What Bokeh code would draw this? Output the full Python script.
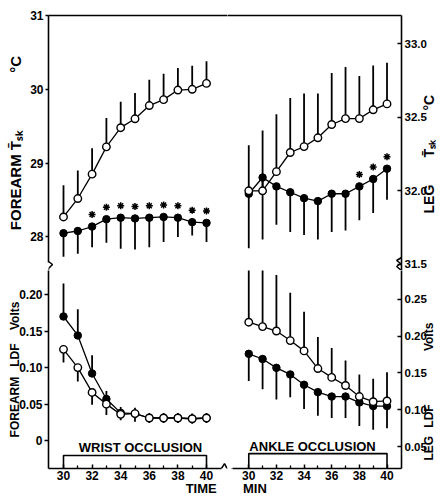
import math
from bokeh.plotting import figure
from bokeh.layouts import gridplot
from bokeh.models import (LinearAxis, FixedTicker, Label, Range1d, NumeralTickFormatter)
from bokeh.embed import file_html
from bokeh.resources import INLINE

# ---------------- data ----------------
minutes = [30, 31, 32, 33, 34, 35, 36, 37, 38, 39, 40]

# forearm mean skin temperature (deg C)
fa_tsk_open = [28.27, 28.52, 28.85, 29.22, 29.48, 29.60, 29.78, 29.86, 29.99, 30.00, 30.08]
fa_tsk_open_sd = [0.43, 0.38, 0.35, 0.39, 0.35, 0.35, 0.35, 0.35, 0.30, 0.32, 0.30]
fa_tsk_closed = [28.05, 28.08, 28.14, 28.24, 28.26, 28.25, 28.26, 28.27, 28.26, 28.20, 28.19]
fa_tsk_closed_sd = [0.32, 0.31, 0.28, 0.32, 0.42, 0.42, 0.40, 0.34, 0.26, 0.18, 0.26]
fa_tsk_signif = [32, 33, 34, 35, 36, 37, 38, 39, 40]

# leg mean skin temperature (deg C)
leg_tsk_open = [32.00, 32.00, 32.13, 32.26, 32.30, 32.36, 32.45, 32.49, 32.49, 32.55, 32.59]
leg_tsk_open_sd = [0.31, 0.41, 0.39, 0.37, 0.36, 0.30, 0.35, 0.35, 0.29, 0.30, 0.28]
leg_tsk_closed = [31.98, 32.09, 32.03, 31.99, 31.95, 31.93, 31.98, 31.98, 32.03, 32.08, 32.15]
leg_tsk_closed_sd = [0.37, 0.42, 0.26, 0.27, 0.25, 0.26, 0.26, 0.25, 0.23, 0.23, 0.21]
leg_tsk_signif = [38, 39, 40]

# forearm laser-Doppler flux (Volts)
fa_ldf_open = [0.125, 0.100, 0.066, 0.050, 0.036, 0.037, 0.031, 0.031, 0.031, 0.030, 0.031]
fa_ldf_open_sd = [0.018, 0.019, 0.017, 0.015, 0.008, 0.011, 0.007, 0.007, 0.007, 0.007, 0.007]
fa_ldf_closed = [0.170, 0.144, 0.092, 0.057, 0.038, 0.037, 0.031, 0.031, 0.031, 0.030, 0.031]
fa_ldf_closed_sd = [0.045, 0.036, 0.025, 0.011, 0.008, 0.008, 0.007, 0.007, 0.007, 0.007, 0.007]

# leg laser-Doppler flux (Volts)
leg_ldf_open = [0.219, 0.213, 0.207, 0.194, 0.180, 0.156, 0.144, 0.133, 0.118, 0.111, 0.112]
leg_ldf_open_sd = [0.078, 0.078, 0.076, 0.065, 0.053, 0.043, 0.040, 0.034, 0.030, 0.031, 0.039]
leg_ldf_closed = [0.176, 0.169, 0.157, 0.148, 0.134, 0.124, 0.118, 0.118, 0.110, 0.105, 0.105]
leg_ldf_closed_sd = [0.037, 0.041, 0.043, 0.031, 0.033, 0.032, 0.029, 0.029, 0.032, 0.032, 0.030]

x_ticks = [30, 32, 34, 36, 38, 40]
x_minor_ticks = [31, 33, 35, 37, 39]
fa_tsk_ticks = [28, 29, 30, 31]
leg_tsk_ticks = [31.5, 32.0, 32.5, 33.0]
fa_ldf_ticks = [0, 0.05, 0.10, 0.15, 0.20]
leg_ldf_ticks = [0.05, 0.10, 0.15, 0.20, 0.25]
occlusion_start, occlusion_end = 30, 40

NB = "\u00a0"
TSK = "T\u0304\u209b\u2096"
fa_tsk_title = "FOREARM " + TSK + NB * 14 + "\u00b0C"
fa_ldf_title = "FOREARM" + NB * 3 + "LDF" + NB * 4 + "Volts"
leg_tsk_words = ["LEG", TSK, "\u00b0C"]
leg_ldf_words = ["LEG", "LDF", "Volts"]
time_title = NB * 35 + "TIME"
min_title = "MIN" + NB * 33

# ---------------- layout helpers (page pixels) ----------------
FONT = "Liberation Sans"
PX_PER_MIN = 14.3


class Panel:
    def __init__(self, fx0, fx1, fy0, fy1, x0, x1, y0, y1, m30_px, yref, yref_px, ppu):
        self.m30 = m30_px
        self.yref = yref
        self.yref_px = yref_px
        self.ppu = ppu
        p = figure(width=fx1 - fx0, height=fy1 - fy0,
                   x_range=Range1d(self.xd(x0), self.xd(x1)),
                   y_range=Range1d(self.yd(y1), self.yd(y0)),
                   min_border_left=x0 - fx0, min_border_right=fx1 - x1,
                   min_border_top=y0 - fy0, min_border_bottom=fy1 - y1,
                   x_axis_location=None, y_axis_location=None,
                   toolbar_location=None, output_backend="svg")
        p.outline_line_color = None
        p.background_fill_color = "white"
        p.border_fill_color = "white"
        p.xgrid.visible = False
        p.ygrid.visible = False
        self.p = p

    def xd(self, px):
        return 30 + (px - self.m30) / PX_PER_MIN

    def yd(self, py):
        return self.yref + (self.yref_px - py) / self.ppu

    def label(self, text, px, py, size):
        self.p.add_layout(Label(x=self.xd(px), y=self.yd(py), text=text,
                                text_align="center", text_baseline="middle",
                                text_font=FONT, text_font_style="bold",
                                text_font_size=f"{size}px", text_color="black"))

    def zigzag(self, pts):
        self.p.line([self.xd(a) for a, b in pts], [self.yd(b) for a, b in pts],
                    line_color="black", line_width=1.5)


def style_axis(ax, size, tick_in=0, tick_out=4, standoff=2):
    ax.axis_line_color = "black"
    ax.axis_line_width = 1.6
    ax.major_tick_line_color = "black"
    ax.major_tick_line_width = 1.5
    ax.minor_tick_line_color = "black"
    ax.minor_tick_line_width = 1.3
    ax.major_tick_in = tick_in
    ax.major_tick_out = tick_out
    ax.minor_tick_in = 0
    ax.minor_tick_out = 0
    ax.major_label_standoff = standoff
    ax.major_label_text_font = FONT
    ax.major_label_text_font_style = "bold"
    ax.major_label_text_font_size = f"{size}px"
    ax.major_label_text_color = "black"
    ax.axis_label_text_font = FONT
    ax.axis_label_text_font_style = "bold"
    ax.axis_label_text_color = "black"


def top_line(panel):
    ax = LinearAxis(ticker=FixedTicker(ticks=[]))
    style_axis(ax, 10, tick_out=0, standoff=0)
    panel.p.add_layout(ax, "above")


def x_axis(panel, bounds, title):
    ax = LinearAxis(ticker=FixedTicker(ticks=x_ticks, minor_ticks=x_minor_ticks),
                    bounds=bounds)
    style_axis(ax, 12, tick_in=4, tick_out=0, standoff=2)
    ax.minor_tick_in = 3
    ax.axis_label = title
    ax.axis_label_text_font_size = "13px"
    ax.axis_label_standoff = -2
    panel.p.add_layout(ax, "below")


def right_title(panel, words, starts_py, size):
    """Rotated title words on the right, read bottom-to-top (one word per label slot)."""
    pos = [round(panel.yd(py), 5) for py in starts_py]
    ax = LinearAxis(ticker=FixedTicker(ticks=pos))
    ax.major_label_overrides = {v: w for v, w in zip(pos, words)}
    ax.axis_line_color = None
    ax.major_tick_line_color = None
    ax.minor_tick_line_color = None
    ax.major_tick_in = 0
    ax.major_tick_out = 0
    ax.minor_tick_in = 0
    ax.minor_tick_out = 0
    ax.major_label_standoff = 0
    ax.major_label_orientation = math.pi / 2
    ax.major_label_text_font = FONT
    ax.major_label_text_font_style = "bold"
    ax.major_label_text_font_size = f"{size}px"
    ax.major_label_text_color = "black"
    panel.p.add_layout(ax, "right")


def draw_pair(panel, open_m, open_sd, open_dir, closed_m, closed_sd, closed_dir):
    p = panel.p
    for m, sd, d in ((open_m, open_sd, open_dir), (closed_m, closed_sd, closed_dir)):
        ends = [v + d * s for v, s in zip(m, sd)]
        p.segment(x0=minutes, y0=m, x1=minutes, y1=ends, line_color="black", line_width=1.8)
    p.line(minutes, open_m, line_color="black", line_width=1.3)
    p.line(minutes, closed_m, line_color="black", line_width=1.3)
    p.scatter(minutes, closed_m, size=7.5, marker="circle", fill_color="black",
              line_color="black", line_width=1)
    p.scatter(minutes, open_m, size=7.5, marker="circle", fill_color="white",
              line_color="black", line_width=1.4)


def draw_signif(panel, sig, means):
    ys = [means[minutes.index(m)] + 12 / panel.ppu for m in sig]
    panel.p.scatter(sig, ys, marker="asterisk", size=7, line_color="black", line_width=1.5)


def occlusion_box(panel, top_py, text, text_px, text_py):
    y0 = panel.p.y_range.start
    yt = panel.yd(top_py)
    panel.p.line([occlusion_start, occlusion_start, occlusion_end, occlusion_end],
                 [y0, yt, yt, y0], line_color="black", line_width=1.6)
    panel.label(text, text_px, text_py, 13)


# ---------------- panels ----------------
# top-left: forearm skin temperature
tl = Panel(0, 227, 0, 270, 48, 227, 15, 270, 63, 31.0, 15, 73.8)
top_line(tl)
ax = LinearAxis(ticker=FixedTicker(ticks=fa_tsk_ticks), bounds=(tl.yd(262), 31.0))
style_axis(ax, 12, tick_out=3, standoff=2)
ax.axis_label = fa_tsk_title
ax.axis_label_text_font_size = "15px"
ax.axis_label_standoff = 3
tl.p.add_layout(ax, "left")
draw_pair(tl, fa_tsk_open, fa_tsk_open_sd, 1, fa_tsk_closed, fa_tsk_closed_sd, -1)
draw_signif(tl, fa_tsk_signif, fa_tsk_closed)
tl.zigzag([(48, 261), (52, 264), (48, 268), (48, 270)])

# top-right: leg skin temperature
tr = Panel(227, 448, 0, 270, 227, 407, 15, 270, 249, 33.0, 43, 147.3)
top_line(tr)
ax = LinearAxis(ticker=FixedTicker(ticks=leg_tsk_ticks),
                formatter=NumeralTickFormatter(format="0.0"))
style_axis(ax, 11.5, tick_in=4, tick_out=0, standoff=3)
tr.p.add_layout(ax, "right")
right_title(tr, leg_tsk_words, [213, 157, 110], 14)
draw_pair(tr, leg_tsk_open, leg_tsk_open_sd, 1, leg_tsk_closed, leg_tsk_closed_sd, -1)
draw_signif(tr, leg_tsk_signif, leg_tsk_closed)
tr.zigzag([(407, 257), (402, 260), (406, 263), (402, 266), (407, 270)])

# bottom-left: forearm LDF
bl = Panel(0, 227, 270, 498, 48, 227, 270, 469, 63, 0.0, 441, 734)
ax = LinearAxis(ticker=FixedTicker(ticks=fa_ldf_ticks),
                formatter=NumeralTickFormatter(format="0.00"))
ax.major_label_overrides = {0: "0"}
style_axis(ax, 12, tick_out=4, standoff=2)
ax.axis_label = fa_ldf_title
ax.axis_label_text_font_size = "12px"
ax.axis_label_standoff = -6
bl.p.add_layout(ax, "left")
x_axis(bl, (bl.xd(48), bl.xd(221)), time_title)
draw_pair(bl, fa_ldf_open, fa_ldf_open_sd, -1, fa_ldf_closed, fa_ldf_closed_sd, 1)
occlusion_box(bl, 456, "WRIST OCCLUSION", 140, 448)
bl.zigzag([(221, 469), (224, 464), (228, 472)])

# bottom-right: leg LDF
br = Panel(227, 448, 270, 498, 227, 407, 270, 469, 249, 0.05, 447, 740)
ax = LinearAxis(ticker=FixedTicker(ticks=leg_ldf_ticks),
                formatter=NumeralTickFormatter(format="0.00"))
style_axis(ax, 11.5, tick_in=4, tick_out=0, standoff=3)
br.p.add_layout(ax, "right")
right_title(br, leg_ldf_words, [461, 428, 351], 12)
x_axis(br, (br.xd(232), br.xd(407)), min_title)
draw_pair(br, leg_ldf_open, leg_ldf_open_sd, 1, leg_ldf_closed, leg_ldf_closed_sd, -1)
occlusion_box(br, 454, "ANKLE OCCLUSION", 315, 447)
br.zigzag([(224, 464), (228, 472), (232, 469)])

grid = gridplot([[tl.p, tr.p], [bl.p, br.p]], toolbar_location=None)

open("out.html", "w").write(file_html(grid, INLINE))
